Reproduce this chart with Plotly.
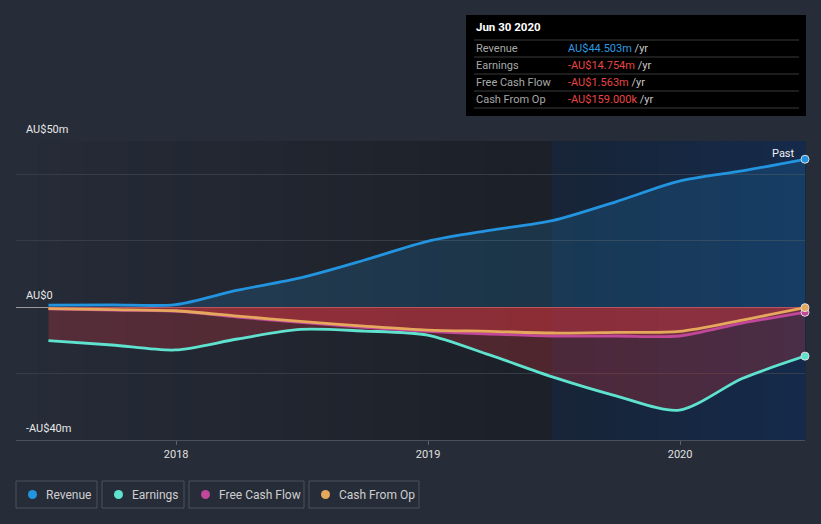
import plotly.graph_objects as go

dates = ["2017-06-30", "2017-09-30", "2017-12-31", "2018-03-31", "2018-06-30",
         "2018-09-30", "2018-12-31", "2019-03-31", "2019-06-30", "2019-09-30",
         "2019-12-31", "2020-03-31", "2020-06-30"]
revenue = [0.6, 0.66, 0.75, 5.1, 8.8, 14.1, 19.8, 23.1, 26.0, 31.7, 37.9, 41.0, 44.503]
earnings = [-10.1, -11.4, -12.9, -9.6, -6.7, -7.2, -8.4, -14.4, -21.0, -26.7, -31.0, -21.5, -14.754]
fcf = [-0.55, -0.9, -1.2, -3.0, -4.6, -6.1, -7.3, -8.1, -8.7, -8.7, -8.7, -4.8, -1.563]
cfo = [-0.45, -0.75, -1.1, -2.7, -4.3, -5.7, -6.9, -7.3, -7.8, -7.6, -7.3, -3.9, -0.159]

y_ticks = [-40, -20, 0, 20, 40, 50]
y_labels = {50: "AU$50m", 0: "AU$0", -40: "-AU$40m"}
x_ticks = ["2018-01-01", "2019-01-01", "2020-01-01"]
x_range = ["2017-05-14", "2020-06-30"]

C_REV = "#2394df"
C_EARN = "#5fe3cf"
C_FCF = "#c0479a"
C_CFO = "#e6a85c"

W, H = 821, 524
L, R, T, B = 16, 805, 141, 440


def px(x):
    return (x - L) / (R - L)


def py(y):
    return (B - y) / (B - T)


fig = go.Figure()

fig.add_trace(go.Scatter(x=dates, y=revenue, mode="lines", fill="tozeroy",
                         fillcolor="rgba(35,148,223,0.18)",
                         line=dict(color=C_REV, width=2.8, shape="spline", smoothing=0.8),
                         hoverinfo="skip", showlegend=False))
for vals, col in [(earnings, C_EARN), (fcf, C_FCF), (cfo, C_CFO)]:
    fig.add_trace(go.Scatter(x=dates, y=vals, mode="lines", fill="tozeroy",
                             fillcolor="rgba(200,52,62,0.30)",
                             line=dict(color=col, width=2.8, shape="spline", smoothing=0.8),
                             hoverinfo="skip", showlegend=False))

for vals, col in [(revenue, C_REV), (earnings, C_EARN), (fcf, C_FCF), (cfo, C_CFO)]:
    fig.add_trace(go.Scatter(x=[dates[-1]], y=[vals[-1]], mode="markers",
                             marker=dict(color=col, size=8, line=dict(color="#dddddd", width=1)),
                             cliponaxis=False, hoverinfo="skip", showlegend=False))

shapes = []
n = 24
for i in range(n):
    t = i / (n - 1)
    r = int(38 + (28 - 38) * t)
    g = int(44 + (32 - 44) * t)
    b = int(56 + (40 - 56) * t)
    shapes.append(dict(type="rect", xref="paper", yref="paper",
                       x0=i / n * px(552), x1=(i + 1) / n * px(552) + 0.001,
                       y0=0, y1=1, fillcolor=f"rgb({r},{g},{b})", line=dict(width=0),
                       layer="below"))
m = 12
x0p = px(552)
for i in range(m):
    t = i / (m - 1)
    r = int(24 + (21 - 24) * t)
    g = int(37 + (42 - 37) * t)
    b = int(56 + (74 - 56) * t)
    shapes.append(dict(type="rect", xref="paper", yref="paper",
                       x0=x0p + i / m * (1 - x0p), x1=x0p + (i + 1) / m * (1 - x0p) + 0.001,
                       y0=0, y1=1, fillcolor=f"rgb({r},{g},{b})", line=dict(width=0),
                       layer="below"))

shapes.append(dict(type="rect", xref="paper", yref="paper",
                   x0=px(466), x1=px(806), y0=py(116), y1=py(15),
                   fillcolor="#000000", line=dict(width=0), layer="above"))
for yy in [40, 57, 74, 91, 108]:
    shapes.append(dict(type="line", xref="paper", yref="paper",
                       x0=px(474), x1=px(799), y0=py(yy), y1=py(yy),
                       line=dict(color="#3a3a3a", width=1), layer="above"))

annotations = []
for v, txt in y_labels.items():
    ypix = B - (v + 40) / 90 * (B - T)
    annotations.append(dict(x=px(24), y=py(ypix - 12), xref="paper", yref="paper",
                            text=txt, showarrow=False, xanchor="left", yanchor="middle",
                            font=dict(color="#e8e8e8", size=11, family="Roboto")))

annotations.append(dict(x=px(797), y=py(153), xref="paper", yref="paper", text="Past",
                        showarrow=False, xanchor="right", yanchor="middle",
                        font=dict(color="#f0f0f0", size=11, family="Roboto")))

annotations.append(dict(x=px(474), y=py(27), xref="paper", yref="paper",
                        text="<b>Jun 30 2020</b>", showarrow=False, xanchor="left",
                        yanchor="middle", font=dict(color="#ffffff", size=11.5, family="Roboto")))
rows = [("Revenue", "AU$44.503m", "#2d9be0"),
        ("Earnings", "-AU$14.754m", "#e84545"),
        ("Free Cash Flow", "-AU$1.563m", "#e84545"),
        ("Cash From Op", "-AU$159.000k", "#e84545")]
for i, (lab, val, col) in enumerate(rows):
    yy = 48.5 + i * 17
    annotations.append(dict(x=px(474), y=py(yy), xref="paper", yref="paper", text=lab,
                            showarrow=False, xanchor="left", yanchor="middle",
                            font=dict(color="#a8a8a8", size=11, family="Roboto")))
    annotations.append(dict(x=px(566), y=py(yy), xref="paper", yref="paper",
                            text=f'<span style="color:{col}">{val}</span> /yr',
                            showarrow=False, xanchor="left", yanchor="middle",
                            font=dict(color="#c8c8c8", size=11, family="Roboto")))

legend = [("Revenue", C_REV, 16, 97), ("Earnings", C_EARN, 102, 184),
          ("Free Cash Flow", C_FCF, 189, 304), ("Cash From Op", C_CFO, 309, 419)]
for lab, col, a, b in legend:
    shapes.append(dict(type="rect", xref="paper", yref="paper",
                       x0=px(a), x1=px(b), y0=py(508), y1=py(481),
                       fillcolor="rgba(0,0,0,0)", line=dict(color="#4a505c", width=1),
                       layer="above"))
    shapes.append(dict(type="circle", xref="paper", yref="paper",
                       x0=px(a + 12), x1=px(a + 21), y0=py(499), y1=py(490),
                       fillcolor=col, line=dict(width=0), layer="above"))
    annotations.append(dict(x=px(a + 28), y=py(494.5), xref="paper", yref="paper",
                            text=lab,
                            showarrow=False, xanchor="left", yanchor="middle",
                            font=dict(color="#cfcfcf", size=12, family="Roboto")))

fig.update_layout(
    width=W, height=H,
    margin=dict(l=L, r=W - R, t=T, b=H - B),
    paper_bgcolor="#262c38",
    plot_bgcolor="rgba(0,0,0,0)",
    shapes=shapes,
    annotations=annotations,
    xaxis=dict(type="date", range=x_range, tickvals=x_ticks, tickformat="%Y",
               showgrid=False, zeroline=False, showline=True, linecolor="#4a505c",
               ticks="outside", ticklen=4, tickcolor="#5a606c",
               tickfont=dict(color="#e0e0e0", size=11, family="Roboto")),
    yaxis=dict(range=[-40, 50], tickvals=y_ticks, showticklabels=False,
               gridcolor="#363c48", gridwidth=1, zeroline=True, zerolinecolor="#9a9a9a",
               zerolinewidth=1.2, fixedrange=True),
    font=dict(family="Roboto"),
    showlegend=False,
)

fig.write_html("out.html", config={"displayModeBar": False},
               post_script="document.body.style.margin='0px';document.body.style.background='#262c38';")
